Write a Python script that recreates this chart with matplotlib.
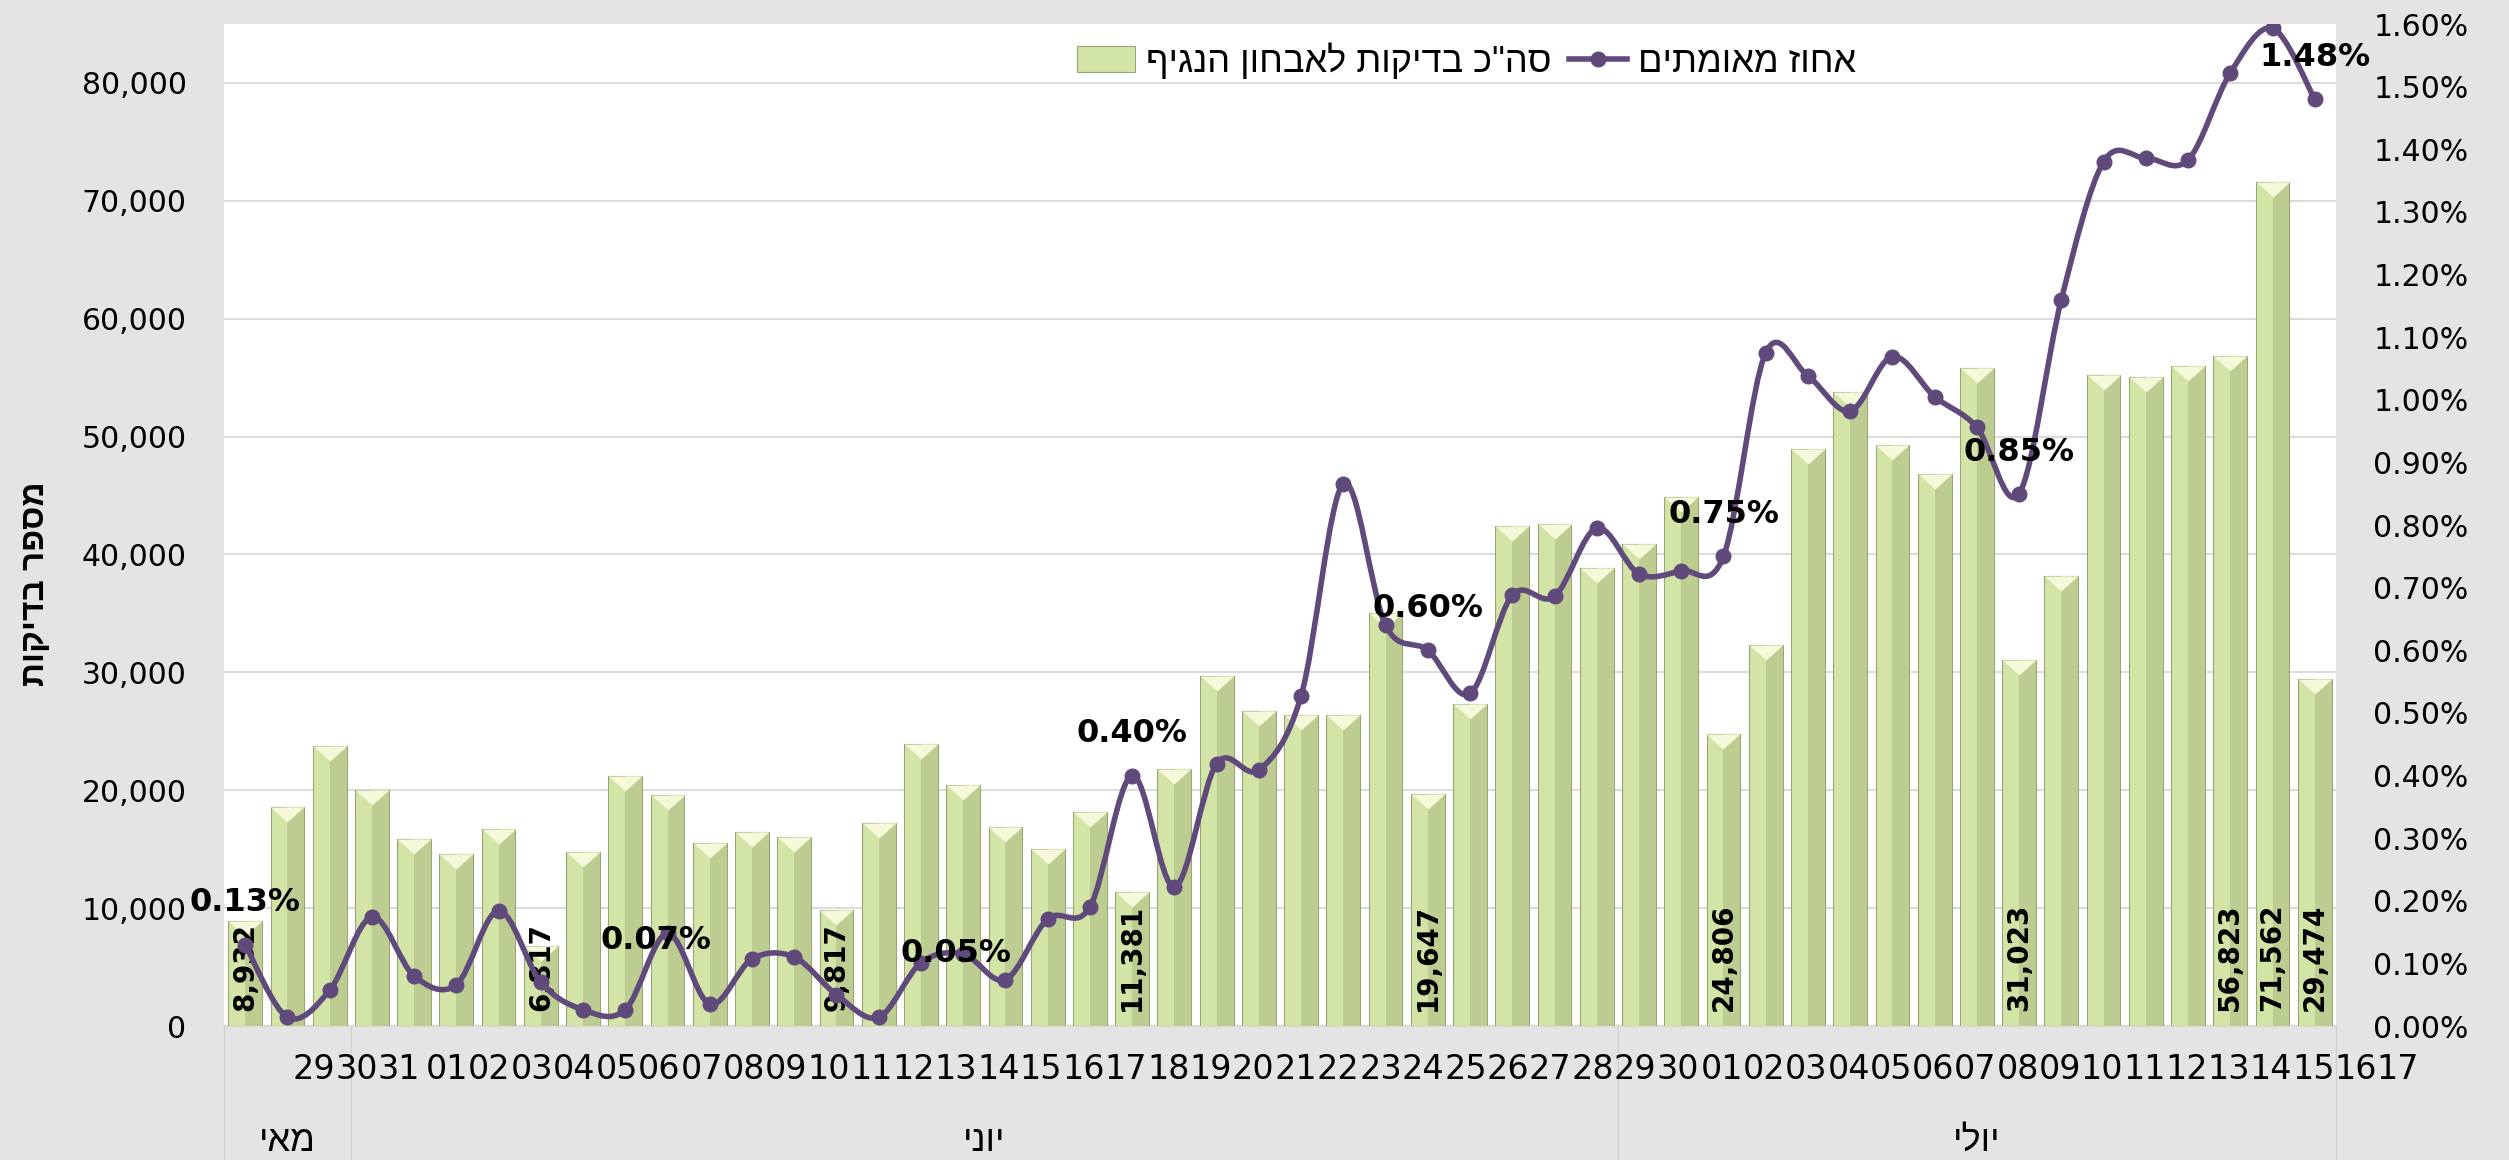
import numpy as np
import matplotlib
matplotlib.use("Agg")
import matplotlib.pyplot as plt
from matplotlib.path import Path
from matplotlib.patches import PathPatch
from matplotlib.lines import Line2D
from matplotlib.transforms import ScaledTranslation
import matplotlib.ticker as mticker

plt.rcParams['font.family'] = ['DejaVu Sans']
HEB = ['Liberation Sans', 'DejaVu Sans']

# data
may_days = ['29', '30', '31']
june_days = ['01', '02', '03', '04', '05', '06', '07', '08', '09', '10',
             '11', '12', '13', '14', '15', '16', '17', '18', '19', '20',
             '21', '22', '23', '24', '25', '26', '27', '28', '29', '30']
july_days = ['01', '02', '03', '04', '05', '06', '07', '08', '09', '10',
             '11', '12', '13', '14', '15', '16', '17']
months = ['מאי', 'יוני', 'יולי']

tests = [8932, 18600, 23750, 20050, 15830, 14600, 16700, 6817, 14730, 21200,
         19600, 15520, 16420, 16000, 9817, 17200, 23900, 20480, 16850, 15000,
         18150, 11381, 21830, 29650, 26750, 26400, 26350, 35000, 19647, 27350,
         42450, 42620, 38870, 40900, 44870, 24806, 32280, 48980, 53800, 49300,
         46800, 55840, 31023, 38200, 55260, 55060, 56030, 56823, 71562, 29474]

pct = [0.13, 0.014, 0.057, 0.174, 0.080, 0.066, 0.184, 0.07, 0.026, 0.026,
       0.148, 0.035, 0.107, 0.110, 0.05, 0.014, 0.101, 0.115, 0.074, 0.171,
       0.19, 0.40, 0.222, 0.419, 0.409, 0.527, 0.866, 0.640, 0.60, 0.531,
       0.688, 0.686, 0.795, 0.722, 0.727, 0.75, 1.075, 1.038, 0.982, 1.069,
       1.005, 0.956, 0.85, 1.160, 1.380, 1.386, 1.383, 1.522, 1.593, 1.48]

bar_label = 'סה"כ בדיקות לאבחון הנגיף'
line_label = 'אחוז מאומתים'
ylabel = 'מספר בדיקות'

bar_lab_idx = [0, 7, 14, 21, 28, 35, 42, 47, 48, 49]
pct_lab_idx = [0, 7, 14, 21, 28, 35, 42, 49]


def rtl(s):
    # matplotlib has no bidi support, so hebrew is drawn reversed
    return s[::-1]


purple = '#604A7B'
days = may_days + june_days + july_days
month_len = [len(may_days), len(june_days), len(july_days)]
x = np.arange(len(tests))

fig = plt.figure(figsize=(25.09, 11.6), dpi=100, facecolor='#E4E4E4')
ax = fig.add_axes([0.0893, 0.1155, 0.8417, 0.8638])
ax.set_facecolor('white')

# bars with a rough bevel look
bars = ax.bar(x, tests, width=0.8, color='#D2E4A6', edgecolor='#97A674',
              linewidth=0.8, label=rtl(bar_label), zorder=2)
ax.bar(x + 0.2, tests, width=0.4, color='#BDCD91', linewidth=0, zorder=2.1)
tri = Path([(-1, 0), (1, 0), (0, -0.9), (-1, 0)],
           [Path.MOVETO, Path.LINETO, Path.LINETO, Path.CLOSEPOLY])
ax.plot(x, tests, linestyle='none', marker=tri, markersize=24, color='#F5F9DA',
        markeredgewidth=0, zorder=2.2)

ax.set_xlim(-0.5, len(x) - 0.5)
ax.set_ylim(0, 85000)
ax.yaxis.set_major_locator(mticker.MultipleLocator(10000))
ax.yaxis.set_major_formatter(mticker.FuncFormatter(lambda v, p: f'{int(v):,}'))
ax.yaxis.grid(True, color='#DCDCDC', lw=1.5)
ax.set_axisbelow(True)
ax.set_xticks([])
ax.tick_params(axis='y', length=0, pad=27, labelsize=21.5)
for s in ax.spines.values():
    s.set_visible(False)
ax.spines['bottom'].set_visible(True)
ax.spines['bottom'].set_color('#D9D9D9')

for i in bar_lab_idx:
    ax.annotate(f'{tests[i]:,}', (x[i], 0), xytext=(0, 11), textcoords='offset points',
                rotation=90, ha='center', va='bottom', fontsize=20, fontweight='bold',
                zorder=3)

# day labels (excel draws them shifted to the right)
xtr = ax.get_xaxis_transform()
starts = np.cumsum([0] + month_len[:-1])
for i, d in enumerate(days):
    if i < starts[1]:
        dx = 69
    elif i < starts[2]:
        dx = 75 + 0.2 * (i - starts[1])
    else:
        dx = 83
    ax.text(x[i], -0.043, d, transform=xtr + ScaledTranslation(dx / 100, 0, fig.dpi_scale_trans),
            ha='center', va='center', fontsize=24)

# month groups
bounds = [-0.5] + list(starts[1:] - 0.5) + [len(x) - 0.5]
for b in bounds:
    ax.plot([b, b], [0, -0.14], transform=xtr, color='#D0D0D0', lw=1, clip_on=False)
for m, st, ln in zip(months, starts, month_len):
    ax.text(st + (ln - 1) / 2, -0.115, rtl(m), transform=xtr, ha='center', va='center',
            fontsize=26, family=HEB)

# percent line, smoothed like excel
ax2 = ax.twinx()
ax2.set_ylim(0, 1.6)
ax2.yaxis.set_major_locator(mticker.MultipleLocator(0.1))
ax2.yaxis.set_major_formatter(mticker.FuncFormatter(lambda v, p: f'{v:.2f}%'))
ax2.tick_params(axis='y', length=0, pad=27, labelsize=21.5)
for s in ax2.spines.values():
    s.set_visible(False)

P = np.column_stack([x, pct])
n = len(P)
verts = [P[0]]
codes = [Path.MOVETO]
for k in range(n - 1):
    p0, p1 = P[max(k - 1, 0)], P[k]
    p2, p3 = P[k + 1], P[min(k + 2, n - 1)]
    verts += [p1 + (p2 - p0) / 6, p2 - (p3 - p1) / 6, p2]
    codes += [Path.CURVE4] * 3
ax2.add_patch(PathPatch(Path(verts, codes), fill=False, edgecolor=purple, lw=4,
                        capstyle='round', joinstyle='round', zorder=3))
ax2.plot(x, pct, linestyle='none', marker='o', ms=10.5, color=purple, zorder=4)

pct_dx = {7: 83, 14: 86}
for i in pct_lab_idx:
    ax2.annotate(f'{pct[i]:.2f}%', (x[i], pct[i]), xytext=(pct_dx.get(i, 0), 30),
                 textcoords='offset points', ha='center', va='center', fontsize=23,
                 fontweight='bold', zorder=5)

fig.text(0.014, 0.497, rtl(ylabel), rotation=90, ha='center', va='center',
         fontsize=24, fontweight='bold', family=HEB)

line_handle = Line2D([], [], color=purple, lw=4, marker='o', ms=10.5)
fig.legend([bars, line_handle], [rtl(bar_label), rtl(line_label)], loc='center',
           bbox_to_anchor=(0.5845, 0.947), ncol=2, frameon=False,
           prop={'family': HEB, 'size': 26}, handlelength=1.6,
           handletextpad=0.3, columnspacing=0.5)

fig.savefig('out.png', dpi=100, facecolor=fig.get_facecolor())
